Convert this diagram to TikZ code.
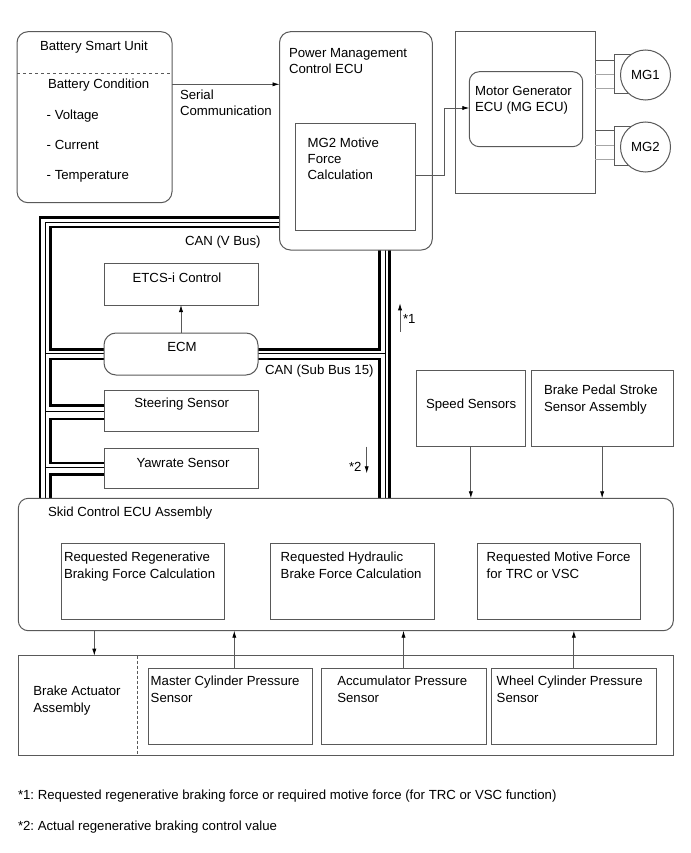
\documentclass[tikz,border=0pt]{standalone}
\usepackage{fontspec}
\setmainfont{Liberation Sans}
\usetikzlibrary{arrows.meta,backgrounds}
\definecolor{ln}{gray}{0.35}
\newcommand\dfont{\fontsize{13.2}{16.5}\selectfont\frenchspacing}
\newcommand\mybox[6][]{%
  \node[bx,#1,minimum width={(#5)-(#3)},minimum height={(#6)-(#4)}] (#2) at ({((#3)+(#5))/2},{((#4)+(#6))/2}) {};}
\begin{document}
\begin{tikzpicture}[x=1pt,y=-1pt,
  bx/.style={draw=ln,fill=white,line width=1pt,inner sep=0pt,outer sep=0pt},
  rbx/.style={rounded corners=11pt},
  tx/.style={anchor=base west,inner sep=0pt,outer sep=0pt,align=left,font=\dfont},
  tc/.style={anchor=base,inner sep=0pt,outer sep=0pt,font=\dfont},
  bus/.style={line width=2.6pt,line join=miter},
  busthin/.style={line width=0.9pt},
  arr/.style={draw=ln,line width=0.8pt,-{Latex[length=7pt,width=4.2pt,color=black]}},
  thn/.style={draw=ln,line width=1pt}]
\useasboundingbox (0,0) rectangle (690,853);

% ---- boxes
\mybox[rbx]{Batt}{17}{31.7}{172}{202.7}
\mybox[rbx]{PMC}{279.5}{31.7}{432.3}{250}
\mybox{MGcalc}{295.7}{124}{415.7}{230.7}
\mybox{MGout}{455.7}{31.7}{595}{193.3}
\mybox[rbx,rounded corners=10pt]{MGECU}{469.3}{71.7}{582.7}{146.7}
\mybox{ETCS}{104}{263}{258}{305}
\mybox[rbx,rounded corners=12pt]{ECM}{104}{333}{258}{375}
\mybox{Steer}{104}{390.7}{258}{431.7}
\mybox{Yaw}{104}{448}{258}{488}
\mybox{Speed}{416.7}{370}{525}{446}
\mybox{Pedal}{531}{370}{673.3}{446}
\mybox[rbx,rounded corners=10pt]{Skid}{18.3}{498.3}{673.3}{630.7}
\mybox{RRBF}{61.7}{543.3}{224.3}{619}
\mybox{RHBF}{270.7}{543.3}{434}{619}
\mybox{RMF}{477.7}{543.3}{640.7}{619}
\mybox{Bottom}{18.3}{655.7}{673.3}{755}
\mybox{Master}{148.3}{668.3}{312.3}{744.3}
\mybox{Accum}{321}{668.3}{486}{744.3}
\mybox{Wheel}{491.7}{668.3}{656}{744.3}

% ---- motor generators
\draw[thn] (MGout.east |- 0,61) -- (614,61);
\draw[thn,draw=gray!70] (MGout.east |- 0,74.5) -- (614,74.5);
\draw[thn,draw=gray!70] (MGout.east |- 0,88.5) -- (614,88.5);
\draw[thn] (645.5,55) -| (614,94) -- (645.5,94);
\draw[thn] (MGout.east |- 0,131) -- (614,131);
\draw[thn,draw=gray!70] (MGout.east |- 0,146) -- (614,146);
\draw[thn,draw=gray!70] (MGout.east |- 0,160) -- (614,160);
\draw[thn] (645.5,127) -| (614,166) -- (645.5,166);
\node[circle,bx,minimum size=50pt,font=\dfont] (MG1) at (645.5,75) {MG1};
\node[circle,bx,minimum size=50pt,font=\dfont] (MG2) at (645.5,147) {MG2};

% ---- CAN buses (behind the boxes)
\begin{scope}[on background layer]
\draw[bus] (Skid.north -| 40,0) |- (389.5,217.5) -- (Skid.north -| 389.5,0);
\draw[busthin] (Skid.north -| 45,0) |- (385,222) -- (Skid.north -| 385,0);
\draw[bus] ([yshift=4.5pt]ECM.west) -| (50.5,227) -| (379.5,349.5) -- ([yshift=4.5pt]ECM.east);
\draw[bus] ([yshift=-5pt]ECM.west) -| (50.5,405.5) -- ([yshift=5.7pt]Steer.west);
\draw[bus] ([yshift=-7.8pt]Steer.west) -| (50.5,463) -- ([yshift=5pt]Yaw.west);
\draw[bus] ([yshift=-6.5pt]Yaw.west) -| (Skid.north -| 50.5,0);
\draw[bus] ([yshift=-5pt]ECM.east) -| (Skid.north -| 379.5,0);
\draw[busthin] (45,353) -- ([yshift=1pt]ECM.west);
\draw[busthin] ([yshift=1pt]ECM.east) -- (385,353);
\draw[busthin] (45,411.2) -- (Steer.west);
\draw[busthin] (45,467.5) -- ([yshift=0.5pt]Yaw.west);
\end{scope}

% ---- dashed separators
\draw[ln,line width=0.8pt,dash pattern=on 3pt off 3pt] (Batt.west |- 0,73.3) -- (Batt.east |- 0,73.3);
\draw[ln,line width=0.8pt,dash pattern=on 3pt off 2pt] (Bottom.north -| 137.7,0) -- (Bottom.south -| 137.7,0);

% ---- arrows
\draw[arr] (Batt.east |- 0,84.3) -- (PMC.west |- 0,84.3);
\draw[arr] (MGcalc.east |- 0,175) -| (444,108) -- (MGECU.west |- 0,108);
\draw[arr] (ECM.north) -- (ETCS.south);
\coordinate (s1a) at (400,331.7);
\coordinate (s1b) at (400,303.3);
\draw[arr] (s1a) -- (s1b);
\coordinate (s2a) at (366.7,446.7);
\coordinate (s2b) at (366.7,473.3);
\draw[arr] (s2a) -- (s2b);
\draw[arr] (Speed.south) -- (Skid.north -| Speed.south);
\draw[arr] (Pedal.south) -- (Skid.north -| Pedal.south);
\draw[arr] (Skid.south -| 94.3,0) -- (Bottom.north -| 94.3,0);
\draw[arr] (Master.north -| 234.3,0) -- (Skid.south -| 234.3,0);
\draw[arr] (Accum.north) -- (Skid.south -| Accum.north);
\draw[arr] (Wheel.north) -- (Skid.south -| Wheel.north);

% ---- texts (multi-line nodes: base = last line)
\node[tx] (tBatt) at (40,50.6) {Battery Smart Unit};
\node[tx] (tCond) at (48,88.6) {Battery Condition};
\node[tx] (tVolt) at (46.7,119.6) {- Voltage};
\node[tx] (tCurr) at (46.7,149.6) {- Current};
\node[tx] (tTemp) at (46.7,179.6) {- Temperature};
\node[tx,font=\fontsize{13.2}{15.8}\selectfont] (tSer) at (180,115.4) {Serial\\Communication};
\node[tx,font=\fontsize{13.2}{16}\selectfont] (tPMC) at (289,73.6) {Power Management\\Control ECU};
\node[tx,font=\fontsize{13.2}{16}\selectfont] (tCalc) at (307.7,179.6) {MG2 Motive\\Force\\Calculation};
\node[tx,font=\fontsize{13.2}{16.3}\selectfont] (tMGECU) at (475,111.6) {Motor Generator\\ECU (MG ECU)};
\node[tc] (tETCS) at (177,282.9) {ETCS-i Control};
\node[tc] (tECM) at (182,351.3) {ECM};
\node[tc] (tSteer) at (181.7,407.9) {Steering Sensor};
\node[tc] (tYaw) at (183,467.9) {Yawrate Sensor};
\node[tx] (tVBus) at (185,245.3) {CAN (V Bus)};
\node[tx] (tSub) at (265,374.6) {CAN (Sub Bus 15)};
\node[tx] (t1) at (403,323.6) {*1};
\node[tx] (t2) at (349,471.3) {*2};
\node[tx] (tSpeed) at (426,408.6) {Speed Sensors};
\node[tx] (tPedal) at (544,411.1) {Brake Pedal Stroke\\Sensor Assembly};
\node[tx] (tSkid) at (48,516.6) {Skid Control ECU Assembly};
\node[tx] (tRRBF) at (64,578.1) {Requested Regenerative\\Braking Force Calculation};
\node[tx] (tRHBF) at (280.7,578.1) {Requested Hydraulic\\Brake Force Calculation};
\node[tx] (tRMF) at (486.7,578.1) {Requested Motive Force\\for TRC or VSC};
\node[tx] (tAct) at (33.3,712.1) {Brake Actuator\\Assembly};
\node[tx] (tMaster) at (150.7,702.1) {Master Cylinder Pressure\\Sensor};
\node[tx] (tAccum) at (337.3,702.1) {Accumulator Pressure\\Sensor};
\node[tx] (tWheel) at (496.7,702.1) {Wheel Cylinder Pressure\\Sensor};
\node[tx] (fn1) at (18,799.6) {*1: Requested regenerative braking force or required motive force (for TRC or VSC function)};
\node[tx] (fn2) at (18,830.6) {*2: Actual regenerative braking control value};
\end{tikzpicture}
\end{document}
